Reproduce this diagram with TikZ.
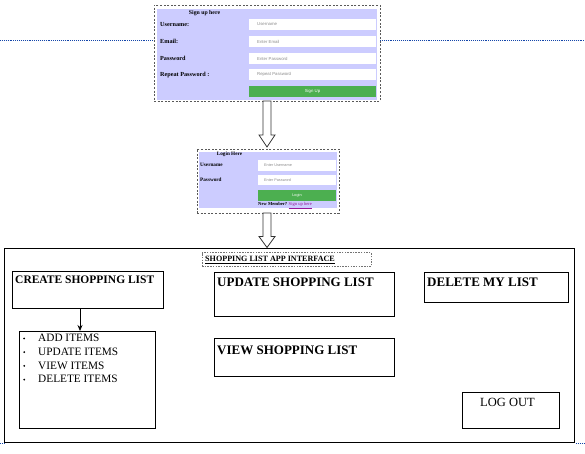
\documentclass[tikz,border=0pt]{standalone}
\usepackage{fontspec}
\setmainfont{Liberation Serif}
\newfontfamily\formsans{Liberation Sans}
\usetikzlibrary{calc,arrows.meta}
\definecolor{lav}{RGB}{204,204,255}
\definecolor{btn}{RGB}{76,175,80}
\definecolor{guide}{RGB}{20,70,170}
\definecolor{linkc}{RGB}{150,20,150}
\definecolor{ph}{RGB}{140,140,140}
\newcommand\mybul{\makebox[15pt][l]{\tikz[baseline=-3.2pt]\fill (0,0) circle (1pt);}}
\begin{document}
\begin{tikzpicture}[x=1pt,y=-1pt,
  rect/.style={anchor=north west,inner sep=0pt,outer sep=0pt},
  frame/.style={rect,draw=black!65,dash pattern=on 2pt off 1.6pt,line width=0.6pt},
  panel/.style={rect,fill=lav},
  field/.style={rect,fill=white},
  button/.style={rect,fill=btn},
  flabel/.style={anchor=west,inner sep=0pt,font=\fontsize{6.2}{7}\selectfont\bfseries},
  llabel/.style={anchor=west,inner sep=0pt,font=\fontsize{5.2}{6}\selectfont\bfseries},
  box/.style={rect,draw=black,line width=0.9pt},
  boxtitle/.style={anchor=base west,inner sep=0pt,font=\fontsize{13}{14}\selectfont\bfseries},
  blockarrow/.style={draw=black!80,line width=0.8pt,fill=white},
  guideline/.style={draw=guide,densely dotted,line width=0.9pt}]
\useasboundingbox (0,0) rectangle (585,454);
\fill[white] (0,0) rectangle (585,454);

% guide lines
\draw[guideline] (0,40.5) -- (154,40.5);
\draw[guideline] (380,40.5) -- (585,40.5);
\draw[guideline] (0,443.5) -- (4,443.5);
\draw[guideline] (576,443.5) -- (585,443.5);

% ---------- sign up form ----------
\node[frame,minimum width=226pt,minimum height=96pt] (suframe) at (154,5) {};
\node[panel,minimum width=220pt,minimum height=91pt] (supanel) at (157,9) {};
\node[anchor=center,inner sep=0pt,font=\fontsize{5.8}{6}\selectfont\bfseries] (sutitle) at (204.5,13) {Sign up here};
\node[flabel] (suuser) at (160,24.5) {Username:};
\node[flabel] (sumail) at (160,41) {Email:};
\node[flabel] (supass) at (160,58) {Password};
\node[flabel] (surep) at (160,75) {Repeat Password :};
\node[field,minimum width=127pt,minimum height=11pt] (fuser) at (249,19) {};
\node[anchor=west,inner sep=0pt,font=\formsans\fontsize{4.3}{5}\selectfont,text=ph] (fusert) at ($(fuser.west)+(8,0)$) {Username};
\node[field,minimum width=127pt,minimum height=11pt] (fmail) at (249,36) {};
\node[anchor=west,inner sep=0pt,font=\formsans\fontsize{4.3}{5}\selectfont,text=ph] (fmailt) at ($(fmail.west)+(8,0)$) {Enter Email};
\node[field,minimum width=127pt,minimum height=11pt] (fpass) at (249,53) {};
\node[anchor=west,inner sep=0pt,font=\formsans\fontsize{4.3}{5}\selectfont,text=ph] (fpasst) at ($(fpass.west)+(8,0)$) {Enter Password};
\node[field,minimum width=127pt,minimum height=11pt] (frep) at (249,69) {};
\node[anchor=west,inner sep=0pt,font=\formsans\fontsize{4.3}{5}\selectfont,text=ph] (frept) at ($(frep.west)+(8,0)$) {Repeat Password};
\node[button,minimum width=127pt,minimum height=11pt] (fsign) at (249,86) {};
\node[inner sep=0pt,font=\formsans\fontsize{4.3}{5}\selectfont,text=white] (fsignt) at (fsign.center) {Sign Up};

% ---------- login form ----------
\node[frame,minimum width=142pt,minimum height=64pt] (liframe) at (197,149) {};
\node[panel,minimum width=138pt,minimum height=56pt] (lipanel) at (199,152) {};
\node[anchor=center,inner sep=0pt,font=\fontsize{5.2}{6}\selectfont\bfseries] (lititle) at (229.5,154.5) {Login Here};
\node[llabel] (liuser) at (200,165) {Username};
\node[llabel] (lipass) at (200,180) {Password};
\node[field,minimum width=78pt,minimum height=11pt] (luser) at (258,160) {};
\node[anchor=west,inner sep=0pt,font=\formsans\fontsize{3.8}{4}\selectfont,text=ph] (lusert) at ($(luser.west)+(6,0)$) {Enter Username};
\node[field,minimum width=78pt,minimum height=10pt] (lpass) at (258,175) {};
\node[anchor=west,inner sep=0pt,font=\formsans\fontsize{3.8}{4}\selectfont,text=ph] (lpasst) at ($(lpass.west)+(6,0)$) {Enter Password};
\node[button,minimum width=78pt,minimum height=11pt] (lbtn) at (258,190) {};
\node[inner sep=0pt,font=\formsans\fontsize{3.8}{4}\selectfont,text=white] (lbtnt) at (lbtn.center) {Login};
\node[anchor=west,inner sep=0pt,font=\fontsize{4.6}{5}\selectfont] (newm) at (258,205.5) {\textbf{New Member?} \textcolor{linkc}{\underline{Sign up here}}};

% ---------- block arrows ----------
\draw[blockarrow] let \p1=(suframe.south), \p2=(liframe.north) in
  (\x1-4pt,\y1) -- (\x1+4pt,\y1) -- (\x1+4pt,\y2+14pt) -- (\x1+8pt,\y2+14pt)
  -- (\x1,\y2+2pt) -- (\x1-8pt,\y2+14pt) -- (\x1-4pt,\y2+14pt) -- cycle;

% ---------- main interface ----------
\node[box,minimum width=570pt,minimum height=194pt] (main) at (4.5,248.5) {};

\draw[blockarrow] let \p1=(suframe.south), \p2=(liframe.south), \p3=(main.north) in
  (\x1-4pt,\y2) -- (\x1+4pt,\y2) -- (\x1+4pt,\y3+12pt) -- (\x1+8pt,\y3+12pt)
  -- (\x1,\y3+1pt) -- (\x1-8pt,\y3+12pt) -- (\x1-4pt,\y3+12pt) -- cycle;

\node[frame,draw=black!55,line width=0.5pt,dash pattern=on 1.5pt off 1.2pt,minimum width=169pt,minimum height=14pt] (tbox) at (202,252.5) {};
\node[anchor=base west,inner sep=0pt,font=\fontsize{8.1}{9}\selectfont\bfseries] (ttext) at (205,261.5) {\underline{SHOPPING LIST APP INTERFACE}};

\node[box,minimum width=151pt,minimum height=37pt] (create) at (12,271) {};
\node[boxtitle,font=\fontsize{11.5}{12}\selectfont\bfseries] (createt) at (15,283) {CREATE SHOPPING LIST};

\node[box,minimum width=136pt,minimum height=97pt] (items) at (19,331) {};
\node[anchor=north west,inner sep=0pt,align=left,font=\fontsize{11.3}{13.7}\selectfont] (itemst) at (23,334) {%
\mybul ADD ITEMS\\
\mybul UPDATE ITEMS\\
\mybul VIEW ITEMS\\
\mybul DELETE ITEMS};
\draw[-{Stealth[length=6pt,width=5pt]},line width=0.8pt] (create.south -| 80,0) -- (items.north -| 80,0);

\node[box,minimum width=180pt,minimum height=44pt] (update) at (214,272) {};
\node[boxtitle] (updatet) at (217,286.5) {UPDATE SHOPPING LIST};

\node[box,minimum width=180pt,minimum height=38pt] (view) at (214,338) {};
\node[boxtitle] (viewt) at (217,354.5) {VIEW SHOPPING LIST};

\node[box,minimum width=144pt,minimum height=30pt] (delete) at (424,272) {};
\node[boxtitle] (deletet) at (427,286.5) {DELETE MY LIST};

\node[box,minimum width=97pt,minimum height=36pt] (logout) at (462,392) {};
\node[anchor=base west,inner sep=0pt,font=\fontsize{12.5}{13}\selectfont] (logoutt) at (480,406.5) {LOG OUT};
\end{tikzpicture}
\end{document}
